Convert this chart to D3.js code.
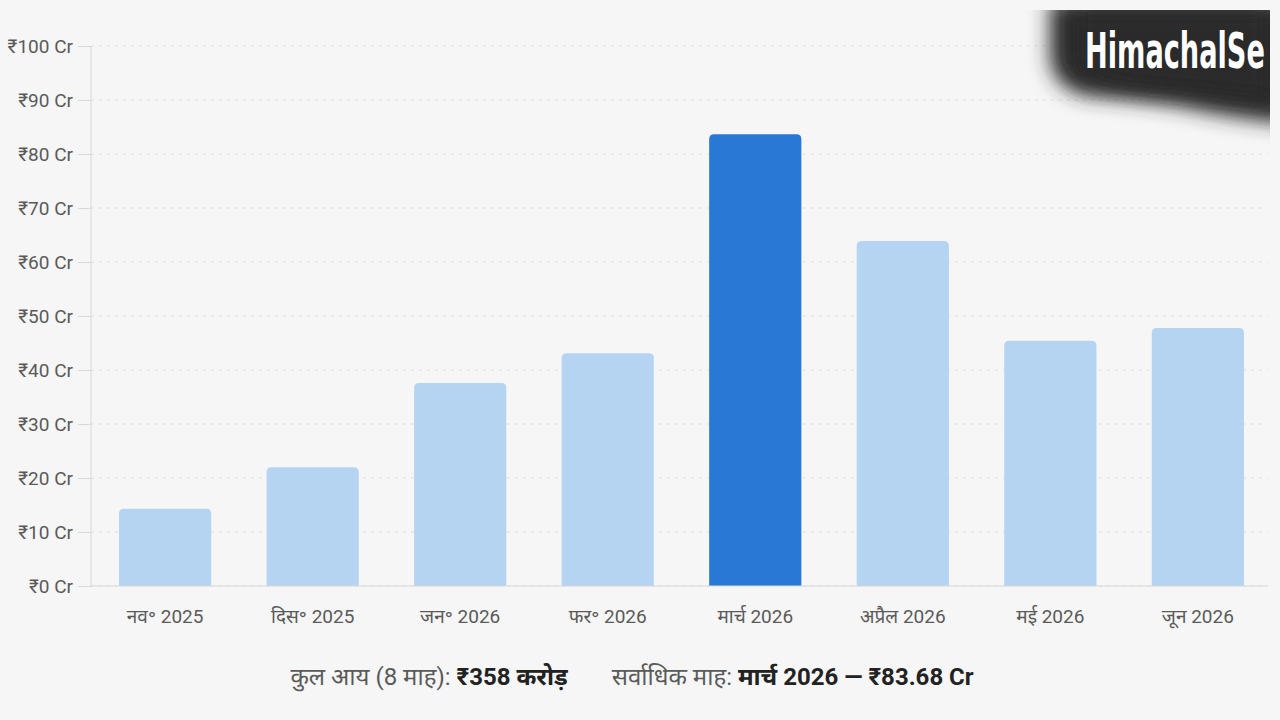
<!DOCTYPE html>
<html>
<head>
<meta charset="utf-8">
<script src="https://cdn.jsdelivr.net/npm/d3@7"></script>
<style>
  body { margin: 0; background: #f6f6f6; }
  svg { display: block; font-family: Roboto, "Noto Sans", sans-serif; }
</style>
</head>
<body>
<svg id="chart" width="1280" height="720"></svg>
<script>
// Data
const months = ["नव॰ 2025", "दिस॰ 2025", "जन॰ 2026", "फर॰ 2026", "मार्च 2026", "अप्रैल 2026", "मई 2026", "जून 2026"];
const income = [14.3, 22.0, 37.6, 43.1, 83.68, 63.9, 45.4, 47.8];
const y_ticks = [0, 10, 20, 30, 40, 50, 60, 70, 80, 90, 100];
const top_month = "मार्च 2026";

const svg = d3.select("#chart");
const width = +svg.attr("width"),
    height = +svg.attr("height");

const plot_left = 91, plot_right = 1272,
    plot_top = 46, plot_bottom = 586;

const light_blue = "#b4d4f2",
    dark_blue = "#2a78d6",
    grid_gray = "#dedede",
    text_gray = "#5a5a5a";

svg.append("rect").attr("width", width).attr("height", height).attr("fill", "#f6f6f6");

// Scales
const x = d3.scaleBand()
    .domain(months)
    .range([plot_left, plot_right])
    .paddingInner(0.375)
    .paddingOuter(0.19);

const y = d3.scaleLinear()
    .domain([0, 100])
    .range([plot_bottom, plot_top]);

// Grid lines
svg.append("g")
    .selectAll("line")
    .data(y_ticks)
    .enter().append("line")
    .attr("x1", plot_left)
    .attr("x2", 1268)
    .attr("y1", d => y(d))
    .attr("y2", d => y(d))
    .attr("stroke", grid_gray)
    .attr("stroke-width", 1)
    .attr("stroke-dasharray", "3,5");

// Y axis
const y_axis = svg.append("g")
    .attr("transform", `translate(${plot_left},0)`)
    .call(d3.axisLeft(y).tickValues(y_ticks).tickSize(13).tickPadding(5)
        .tickFormat(d => `₹${d} Cr`));
y_axis.select(".domain").attr("stroke", "#d8d8d8").attr("d", `M0,${plot_bottom}V${plot_top}`);
y_axis.selectAll(".tick line").attr("stroke", "#d8d8d8");
y_axis.selectAll("text")
    .attr("fill", text_gray)
    .attr("font-size", 19)
    .attr("font-family", "Roboto, sans-serif");

// Bars
svg.append("g")
    .selectAll("path")
    .data(months)
    .enter().append("path")
    .attr("d", (d, i) => {
        const x0 = x(d), w = x.bandwidth(), y0 = y(income[i]), r = 5;
        return `M${x0},${plot_bottom} V${y0 + r} Q${x0},${y0} ${x0 + r},${y0} H${x0 + w - r} Q${x0 + w},${y0} ${x0 + w},${y0 + r} V${plot_bottom} Z`;
    })
    .attr("fill", d => d === top_month ? dark_blue : light_blue);

// Baseline
svg.append("line")
    .attr("x1", plot_left).attr("x2", 1268)
    .attr("y1", plot_bottom).attr("y2", plot_bottom)
    .attr("stroke", "#d8d8d8");

// X axis labels
const x_axis = svg.append("g")
    .attr("transform", `translate(0,${plot_bottom})`)
    .call(d3.axisBottom(x).tickSize(0).tickPadding(24));
x_axis.select(".domain").remove();
x_axis.selectAll("text")
    .attr("fill", text_gray)
    .attr("font-size", 19)
    .attr("font-family", "Roboto, 'Noto Sans', sans-serif");

// Summary line
const total = Math.round(d3.sum(income));
const top_value = income[months.indexOf(top_month)];
const summary = svg.append("text")
    .attr("x", 632)
    .attr("y", 685)
    .attr("text-anchor", "middle")
    .attr("font-size", 24)
    .attr("font-family", "Roboto, 'Noto Sans', sans-serif");
summary.append("tspan").attr("fill", text_gray).text("कुल आय (8 माह): ");
summary.append("tspan").attr("fill", "#222").attr("font-weight", "bold").text(`₹${total} करोड़`);
summary.append("tspan").attr("fill", text_gray).attr("dx", 44).text("सर्वाधिक माह: ");
summary.append("tspan").attr("fill", "#222").attr("font-weight", "bold").text(`${top_month} — ₹${top_value.toFixed(2)} Cr`);

// Watermark
const defs = svg.append("defs");
defs.append("filter").attr("id", "blur")
    .attr("x", "-30%").attr("y", "-40%").attr("width", "160%").attr("height", "180%")
    .append("feGaussianBlur").attr("stdDeviation", 10);
defs.append("clipPath").attr("id", "wm_clip")
    .append("rect").attr("x", 1000).attr("y", 10).attr("width", 270).attr("height", 150);

const wm = svg.append("g").attr("clip-path", "url(#wm_clip)");
wm.append("path")
    .attr("d", "M1050,0 H1300 V125 Q1230,118 1180,106 Q1120,98 1088,96 Q1055,90 1050,60 Z")
    .attr("fill", "#2b2b2b")
    .attr("filter", "url(#blur)");
wm.append("path")
    .attr("d", "M1075,10 H1270 V100 Q1200,92 1140,88 Q1085,84 1075,60 Z")
    .attr("fill", "#2b2b2b")
    .attr("filter", "url(#blur)");
const wm_text = svg.append("text")
    .attr("x", 0)
    .attr("y", 0)
    .attr("fill", "#ffffff")
    .attr("font-size", 50)
    .attr("font-weight", "bold")
    .attr("font-family", "'DejaVu Sans Condensed', 'Liberation Sans Narrow', sans-serif")
    .text("HimachalSe");
const natural = wm_text.node().getComputedTextLength();
wm_text.attr("transform", `translate(1085,68) scale(${180 / natural},1)`);
</script>
</body>
</html>
